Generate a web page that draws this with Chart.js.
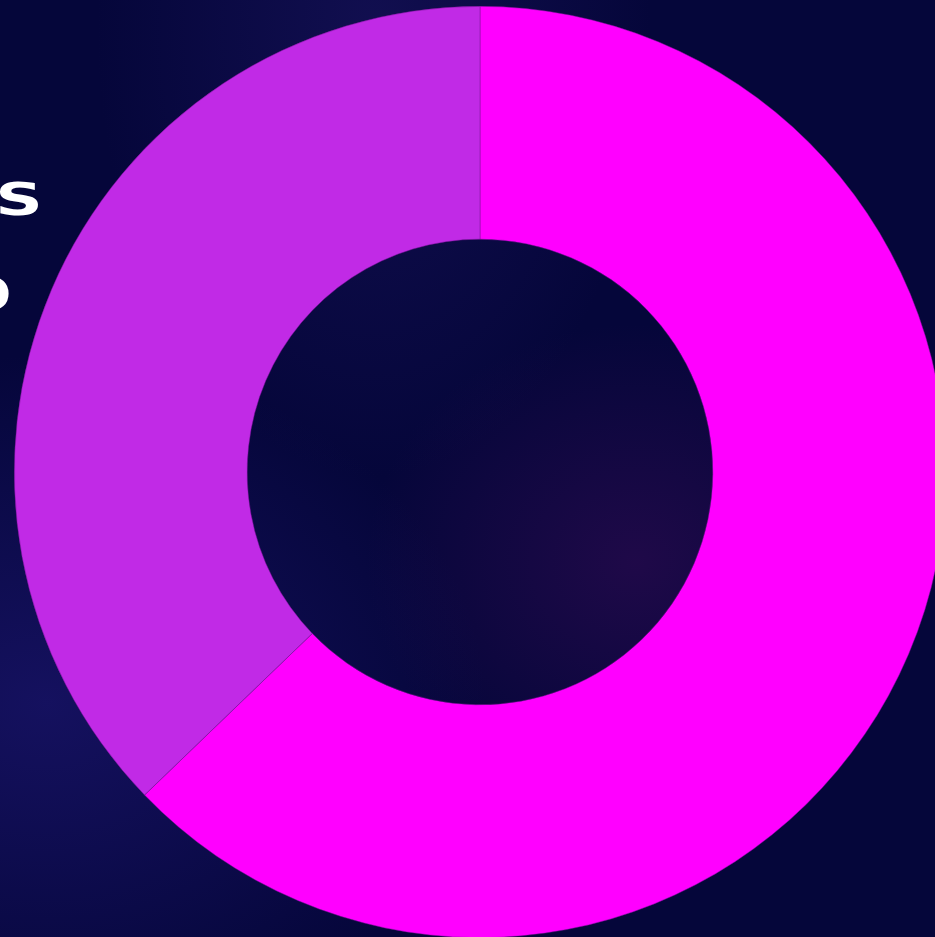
<!DOCTYPE html>
<html>
<head>
<meta charset="utf-8">
<script src="https://cdn.jsdelivr.net/npm/chart.js@4"></script>
<style>
    html, body { margin: 0; padding: 0; }
    body {
        width: 935px; height: 937px; overflow: hidden; position: relative;
        background:
            radial-gradient(ellipse at 68% 60%, rgba(80, 15, 100, 0.35), rgba(0, 0, 0, 0) 30%),
            radial-gradient(ellipse at 5% 75%, rgba(40, 30, 140, 0.45), rgba(0, 0, 0, 0) 35%),
            radial-gradient(ellipse at 40% 3%, rgba(40, 30, 120, 0.35), rgba(0, 0, 0, 0) 35%),
            #05063a;
        font-family: "DejaVu Sans", sans-serif;
    }
    .side-text {
        position: absolute; color: #fff; font-weight: bold; font-size: 44px;
        line-height: 44px; transform: scaleX(1.5); transform-origin: right center;
        text-align: right; white-space: nowrap;
    }
    #wrap { position: absolute; left: 14px; top: 6px; width: 932px; height: 932px; }
</style>
</head>
<body>
<div class="side-text" style="right: 892px; top: 178px;">S</div>
<div class="side-text" style="right: 923px; top: 273px;">0</div>
<div id="wrap"><canvas id="chart"></canvas></div>
<script>
// --- ДАНІ ---
const labels = ['A', 'B'];
const values = [62.8, 37.2];
const colors = ['#FF00FF', '#C12AE6'];

new Chart(document.getElementById('chart'), {
    type: 'doughnut',
    data: {
        labels: labels,
        datasets: [{
            data: values,
            backgroundColor: colors,
            borderColor: 'rgba(120, 20, 150, 0.8)',
            borderWidth: 0.6
        }]
    },
    options: {
        animation: false,
        responsive: true,
        maintainAspectRatio: false,
        cutout: '50%',
        layout: { padding: 0 },
        plugins: { legend: { display: false }, tooltip: { enabled: false } }
    }
});
</script>
</body>
</html>
